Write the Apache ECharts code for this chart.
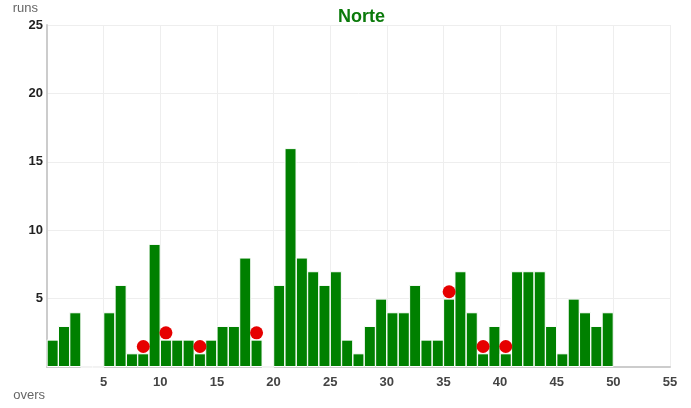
<!DOCTYPE html>
<html>
<head>
<meta charset="utf-8">
<script src="https://cdn.jsdelivr.net/npm/echarts@6/dist/echarts.min.js"></script>
<style>html,body{margin:0;padding:0;background:#fff}#c{width:691px;height:408px}</style>
</head>
<body>
<div id="c"></div>
<script>
const chartTitle = 'Norte';
const overs = [1,2,3,4,5,6,7,8,9,10,11,12,13,14,15,16,17,18,19,20,21,22,23,24,25,26,27,28,29,30,31,32,33,34,35,36,37,38,39,40,41,42,43,44,45,46,47,48,49,50];
const runs = [2,3,4,0,0,4,6,1,1,9,2,2,2,1,2,3,3,8,2,0,6,16,8,7,6,7,2,1,3,5,4,4,6,2,2,5,7,4,1,3,1,7,7,7,3,1,5,4,3,4];
const wicketOvers = [9,11,14,19,36,39,41];
const xTicks = [0,5,10,15,20,25,30,35,40,45,50,55];
const yTicks = [0,5,10,15,20,25];

const barData = overs.map((o, i) => [o - 0.5, runs[i]]);
const wicketData = wicketOvers.map(o => [o - 0.5, runs[o - 1] + 0.5]);

const chart = echarts.init(document.getElementById('c'));
chart.setOption({
  animation: false,
  title: {
    text: chartTitle, left: 333, top: 3,
    textStyle: {color: '#0b7a0b', fontSize: 18, fontWeight: 'bold', fontFamily: 'Liberation Sans'}
  },
  grid: {left: 47, right: 21, top: 25, bottom: 41},
  xAxis: {
    type: 'value', min: xTicks[0], max: xTicks[xTicks.length - 1], interval: 5,
    name: 'overs', nameLocation: 'start', nameGap: 2,
    nameTextStyle: {align: 'right', verticalAlign: 'top', padding: [22, 0, 0, 0], color: '#666', fontSize: 13, fontFamily: 'Liberation Sans'},
    axisLine: {show: true, lineStyle: {color: '#ccc', width: 2}},
    axisTick: {show: false},
    axisLabel: {color: '#444', fontSize: 13, fontWeight: 'bold', fontFamily: 'Liberation Sans', margin: 9,
      formatter: v => v === 0 ? '' : String(v)},
    splitLine: {show: true, lineStyle: {color: '#eee'}}
  },
  yAxis: {
    type: 'value', min: yTicks[0], max: yTicks[yTicks.length - 1], interval: 5,
    name: 'runs', nameLocation: 'end', nameGap: 10,
    nameTextStyle: {align: 'right', padding: [0, 9, 0, 0], color: '#666', fontSize: 13, fontFamily: 'Liberation Sans'},
    axisLine: {show: true, lineStyle: {color: '#ccc', width: 2}},
    axisTick: {show: false},
    axisLabel: {color: '#222', fontSize: 13, fontWeight: 'bold', fontFamily: 'Liberation Sans', margin: 4,
      formatter: v => v === 0 ? '' : String(v)},
    splitLine: {show: true, lineStyle: {color: '#eee'}}
  },
  series: [
    {
      type: 'bar', data: barData, barWidth: 12,
      itemStyle: {color: '#008000', borderColor: '#fff', borderWidth: 1}
    },
    {
      type: 'scatter', data: wicketData, symbolSize: 13, z: 5,
      itemStyle: {color: '#e60000', opacity: 1}
    }
  ]
});
</script>
</body>
</html>
